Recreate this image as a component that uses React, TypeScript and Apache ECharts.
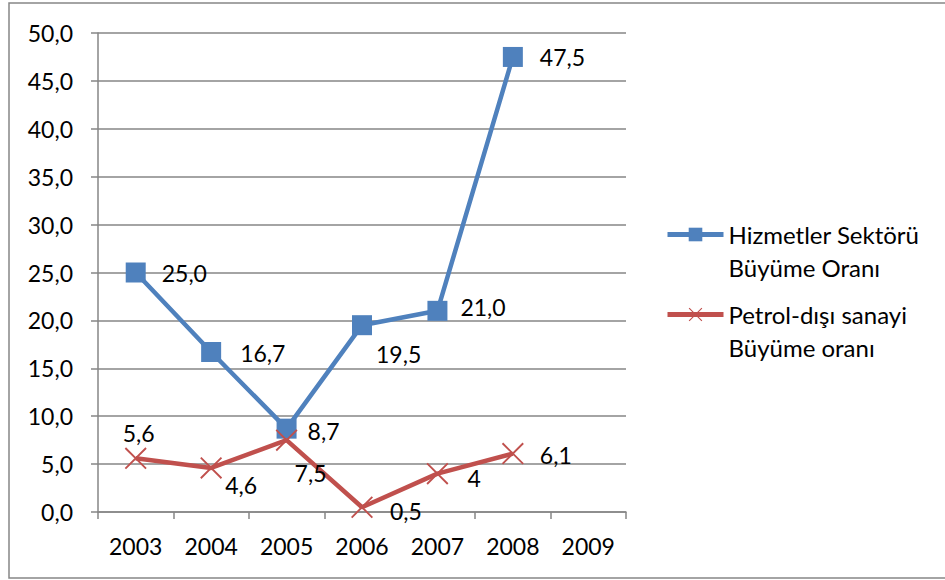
import React, { useEffect, useRef } from "react";
import * as echarts from "echarts";

const years = ["2003", "2004", "2005", "2006", "2007", "2008", "2009"];
const hizmetler = [25.0, 16.7, 8.7, 19.5, 21.0, 47.5, null];
const petrol = [5.6, 4.6, 7.5, 0.5, 4, 6.1, null];
const hizmetlerLabels = ["25,0", "16,7", "8,7", "19,5", "21,0", "47,5", ""];
const petrolLabels = ["5,6", "4,6", "7,5", "0,5", "4", "6,1", ""];
const seriesNames = ["Hizmetler Sektörü\nBüyüme Oranı", "Petrol-dışı sanayi\nBüyüme oranı"];
const yTicks = { min: 0, max: 50, interval: 5 };

// label placement (style only)
const hizmetlerLabelOffsets: [number, number][] = [
  [26, 0], [29, 1], [21, 2], [14, 29], [23, -4], [27, 0], [0, 0],
];
const petrolLabelOffsets: [number, number][] = [
  [-13, -25], [14, 17], [8, 33], [28, 4], [30, 4], [27, 1], [0, 0],
];

const FONT = "Lato";
const FS = 23;
const BLUE = "#4F81BD";
const RED = "#C0504D";
const XPATH = "path://M0,1.2 L1.2,0 L20,18.8 L18.8,20 Z M18.8,0 L20,1.2 L1.2,20 L0,18.8 Z";

export default function App() {
  const ref = useRef<HTMLDivElement>(null);
  useEffect(() => {
    if (!ref.current) return;
    const chart = echarts.init(ref.current, null, { renderer: "svg" });
    const labelStyle = { color: "#000", fontFamily: FONT, fontSize: FS };
    chart.setOption({
      animation: false,
      backgroundColor: "#fff",
      graphic: [
        {
          type: "rect",
          shape: { x: 9, y: 3, width: 960, height: 575 },
          style: { fill: "none", stroke: "#868686", lineWidth: 1.5 },
          silent: true,
        },
      ],
      grid: { left: 98, top: 33, width: 528, height: 479, containLabel: false },
      legend: {
        orient: "vertical",
        left: 665,
        top: 185,
        padding: 0,
        itemWidth: 56,
        itemHeight: 17,
        itemGap: -19,
        data: seriesNames,
        formatter: (name: string) => " \n" + name,
        lineStyle: { width: 5 },
        textStyle: {
          fontFamily: FONT,
          fontSize: 24,
          color: "#000",
          lineHeight: 33,
        },
      },
      xAxis: {
        type: "category",
        data: years,
        boundaryGap: true,
        axisLine: { lineStyle: { color: "#868686", width: 1.5 } },
        axisTick: { show: true, length: 7, lineStyle: { color: "#868686", width: 1.5 } },
        axisLabel: { fontFamily: FONT, fontSize: FS, color: "#000", margin: 22 },
        splitLine: { show: false },
      },
      yAxis: {
        type: "value",
        min: yTicks.min,
        max: yTicks.max,
        interval: yTicks.interval,
        axisLine: { show: true, lineStyle: { color: "#868686", width: 1.5 } },
        axisTick: { show: true, length: 7, lineStyle: { color: "#868686", width: 1.5 } },
        axisLabel: {
          fontFamily: FONT,
          fontSize: FS,
          color: "#000",
          margin: 25,
          formatter: (v: number) => v.toFixed(1).replace(".", ","),
        },
        splitLine: { show: true, lineStyle: { color: "#868686", width: 1.5 } },
      },
      series: [
        {
          name: seriesNames[0],
          type: "line",
          data: hizmetler.map((v, i) => ({
            value: v,
            label: {
              show: v !== null,
              position: "inside",
              offset: hizmetlerLabelOffsets[i],
              align: "left",
              formatter: hizmetlerLabels[i],
              ...labelStyle,
            },
          })),
          symbol: "rect",
          symbolSize: 20,
          itemStyle: { color: BLUE },
          lineStyle: { color: BLUE, width: 4.5 },
          z: 3,
        },
        {
          name: seriesNames[1],
          type: "line",
          data: petrol.map((v, i) => ({
            value: v,
            label: {
              show: v !== null,
              position: "inside",
              offset: petrolLabelOffsets[i],
              align: "left",
              formatter: petrolLabels[i],
              ...labelStyle,
            },
          })),
          symbol: XPATH,
          symbolSize: 22,
          itemStyle: { color: RED },
          lineStyle: { color: RED, width: 4.5 },
          z: 4,
        },
      ],
    });
    return () => chart.dispose();
  }, []);
  return (
    <div
      ref={ref}
      style={{ position: "fixed", left: 0, top: 0, width: 945, height: 580 }}
    />
  );
}
